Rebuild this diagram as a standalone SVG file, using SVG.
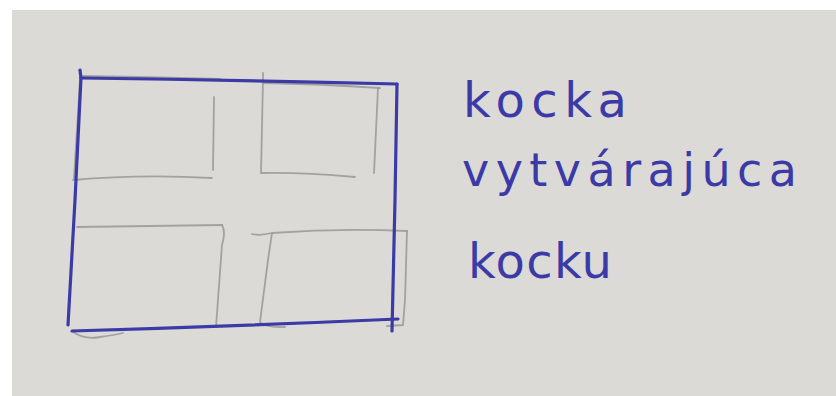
<svg xmlns="http://www.w3.org/2000/svg" width="836" height="396" viewBox="0 0 836 396">
<style>
.ink{fill:none;stroke:#3b3aa6;stroke-width:3.2;stroke-linecap:round;stroke-linejoin:round}
.pencil{fill:none;stroke:#9d9b98;stroke-width:1.8;stroke-linecap:round;stroke-linejoin:round;opacity:0.9}
.hand{font-family:"DejaVu Sans","Liberation Sans",sans-serif;fill:#3b3aa6;font-size:48px}
</style>
<rect x="0" y="0" width="836" height="396" fill="#ffffff"/>
<rect x="12" y="10" width="824" height="386" fill="#dcdad7"/>
<g id="pencil-squares">
<g id="square-top-left">
<path class="pencil" d="M83 76 Q150 77 220 79"/>
<path class="pencil" d="M80 80 L74 178"/>
<path class="pencil" d="M214 97 L213 170"/>
<path class="pencil" d="M73 180 Q140 174 212 178"/>
</g>
<g id="square-top-right">
<path class="pencil" d="M263 73 L263 83 Q320 84 380 88"/>
<path class="pencil" d="M263 80 L261 173 Q300 172 355 177"/>
<path class="pencil" d="M378 88 L374 173"/>
</g>
<g id="square-bottom-left">
<path class="pencil" d="M77 227 Q150 226 222 225"/>
<path class="pencil" d="M222 225 Q226 232 222 245 L216 327"/>
<path class="pencil" d="M73 332 Q85 340 100 337 Q115 335 123 333"/>
</g>
<g id="square-bottom-right">
<path class="pencil" d="M252 234 Q260 236 272 233 Q340 228 407 231"/>
<path class="pencil" d="M272 233 L268 260 L260 322 Q265 328 285 327"/>
<path class="pencil" d="M407 231 L405 300 L403 325 L387 326"/>
</g>
</g>
<g id="big-square">
<path class="ink" d="M81 78 Q240 80 397 84"/>
<path class="ink" d="M397 84 L395 200 L392 331"/>
<path class="ink" d="M81 78 L75 200 L68 325"/>
<path class="ink" d="M72 331 Q240 326 398 319"/>
<path class="ink" d="M81 78 L80 70"/>
</g>
<g id="label">
<text class="hand" x="463" y="117" textLength="164" lengthAdjust="spacing">kocka</text>
<text class="hand" x="462" y="186" textLength="335" lengthAdjust="spacing" style="font-size:46px">vytvárajúca</text>
<text class="hand" x="468" y="278" textLength="144" lengthAdjust="spacing">kocku</text>
</g>
</svg>
